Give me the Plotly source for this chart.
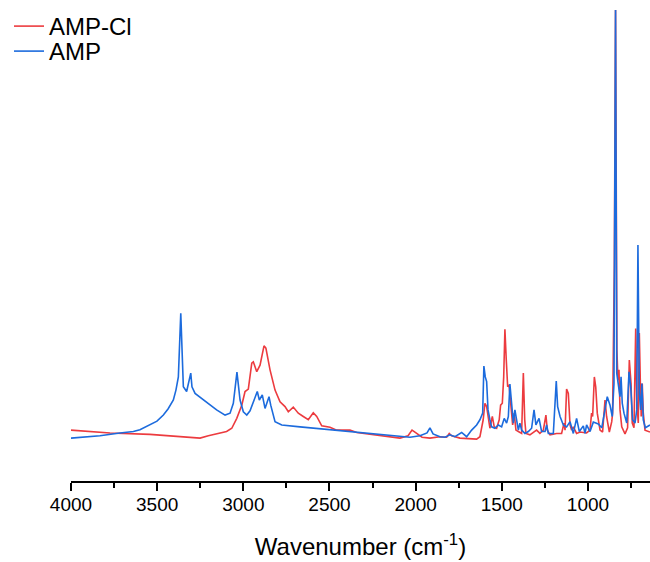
import plotly.graph_objects as go

# FTIR spectra (normalised absorbance, a.u.)
amp_cl_wn = [4000, 3774, 3542, 3251, 3203, 3155, 3097, 3067, 3038, 3009, 2990, 2971, 2951, 2942,
             2922, 2903, 2880, 2869, 2845, 2816, 2787, 2758, 2739, 2710, 2681, 2652, 2623, 2594,
             2574, 2545, 2497, 2458, 2381, 2342, 2265, 2091, 2044, 2021, 1998, 1963, 1917, 1859,
             1820, 1805, 1791, 1743, 1646, 1627, 1608, 1598, 1588, 1579, 1569, 1555, 1544, 1530,
             1515, 1507, 1497, 1489, 1482, 1474, 1466, 1458, 1453, 1443, 1437, 1428, 1418, 1404,
             1385, 1375, 1367, 1360, 1337, 1298, 1279, 1259, 1244, 1236, 1220, 1182, 1153, 1139,
             1133, 1124, 1114, 1104, 1095, 1085, 1066, 1046, 1008, 988, 979, 973, 963, 955, 946,
             930, 915, 901, 892, 876, 862, 857, 847, 840, 832, 826, 820, 814, 804, 785, 770, 760,
             750, 743, 733, 723, 717, 708, 702, 696, 691, 685, 679, 669, 640]
amp_cl_abs = [0.108, 0.102, 0.099, 0.091, 0.096, 0.100, 0.105, 0.112, 0.133, 0.161, 0.190, 0.195,
              0.250, 0.253, 0.232, 0.246, 0.287, 0.282, 0.236, 0.193, 0.168, 0.158, 0.147, 0.157,
              0.144, 0.137, 0.130, 0.145, 0.137, 0.117, 0.114, 0.108, 0.108, 0.103, 0.099, 0.091,
              0.096, 0.108, 0.102, 0.093, 0.091, 0.094, 0.093, 0.101, 0.096, 0.091, 0.089, 0.094,
              0.130, 0.165, 0.158, 0.137, 0.112, 0.137, 0.115, 0.112, 0.130, 0.161, 0.165, 0.221,
              0.322, 0.257, 0.200, 0.204, 0.179, 0.137, 0.119, 0.144, 0.108, 0.105, 0.101, 0.229,
              0.130, 0.101, 0.098, 0.108, 0.101, 0.108, 0.140, 0.108, 0.098, 0.101, 0.101, 0.123,
              0.108, 0.195, 0.186, 0.119, 0.108, 0.115, 0.101, 0.104, 0.102, 0.108, 0.144, 0.137,
              0.221, 0.200, 0.144, 0.108, 0.104, 0.172, 0.137, 0.104, 0.126, 0.144, 0.455, 1.000,
              0.278, 0.214, 0.236, 0.151, 0.115, 0.100, 0.113, 0.257, 0.207, 0.123, 0.113, 0.324,
              0.172, 0.123, 0.314, 0.207, 0.137, 0.207, 0.144, 0.108, 0.104]

amp_wn = [4000, 3832, 3716, 3638, 3600, 3542, 3501, 3464, 3437, 3406, 3391, 3377, 3363, 3348,
          3329, 3305, 3298, 3280,
          3232, 3155, 3106, 3077, 3058, 3037, 3019, 3000, 2980, 2961, 2919, 2907, 2890, 2874,
          2851, 2841, 2816, 2777, 2671, 2478, 2284, 2091, 2033, 1975, 1934, 1917, 1899, 1859,
          1830, 1801, 1772, 1733, 1704, 1675, 1646, 1627, 1611, 1604, 1596, 1588, 1580, 1569,
          1559, 1540, 1520, 1501, 1486, 1472, 1462, 1453, 1443, 1433, 1424, 1414, 1404, 1395,
          1385, 1366, 1346, 1327, 1313, 1302, 1284, 1269, 1249, 1240, 1230, 1201, 1192, 1184,
          1176, 1162, 1143, 1124, 1104, 1085, 1066, 1050, 1027, 1017, 1008, 988, 969, 940, 920,
          901, 888, 872, 859, 849, 840, 833, 824, 814, 808, 801, 791, 775, 762, 752, 741, 727,
          717, 710, 702, 694, 687, 679, 667, 640]
amp_abs = [0.091, 0.096, 0.102, 0.105, 0.109, 0.119, 0.127, 0.140, 0.153, 0.172, 0.193, 0.221,
           0.356, 0.200, 0.190, 0.229,
           0.200, 0.186, 0.172, 0.151, 0.140, 0.144, 0.165, 0.231, 0.172, 0.147, 0.140, 0.149,
           0.190, 0.172, 0.183, 0.154, 0.179, 0.161, 0.126, 0.119, 0.115, 0.108, 0.101, 0.094,
           0.093, 0.096, 0.102, 0.113, 0.100, 0.094, 0.093, 0.098, 0.094, 0.103, 0.094, 0.108,
           0.119, 0.130, 0.144, 0.244, 0.221, 0.211, 0.151, 0.130, 0.115, 0.112, 0.119, 0.115,
           0.133, 0.123, 0.137, 0.206, 0.165, 0.123, 0.151, 0.130, 0.108, 0.123, 0.108, 0.101,
           0.105, 0.112, 0.151, 0.119, 0.133, 0.105, 0.105, 0.119, 0.101, 0.101, 0.151, 0.212,
           0.158, 0.137, 0.119, 0.115, 0.126, 0.101, 0.133, 0.105, 0.117, 0.101, 0.119, 0.105,
           0.125, 0.121, 0.113, 0.151, 0.179, 0.161, 0.137, 0.207, 1.000, 0.229, 0.200, 0.179,
           0.221, 0.165, 0.144, 0.123, 0.232, 0.200, 0.130, 0.123, 0.151, 0.501, 0.186, 0.151,
           0.207, 0.130, 0.113, 0.119]

x_ticks = [4000, 3500, 3000, 2500, 2000, 1500, 1000]

RED = "#EC3B3F"
BLUE = "#1C6BDD"
FONT = "Liberation Sans, Arial, sans-serif"

fig = go.Figure()
fig.add_trace(go.Scatter(x=amp_cl_wn, y=amp_cl_abs, mode="lines", name="AMP-Cl",
                         line=dict(color=RED, width=1.6), legend="legend"))
fig.add_trace(go.Scatter(x=amp_wn, y=amp_abs, mode="lines", name="AMP",
                         line=dict(color=BLUE, width=1.6), legend="legend2"))

legend_style = dict(xref="container", yref="container", x=9 / 650,
                    xanchor="left", yanchor="top", font=dict(size=24, family=FONT),
                    bgcolor="rgba(0,0,0,0)", itemwidth=30)

fig.update_layout(
    width=650, height=562,
    margin=dict(l=71, r=0, t=0, b=81, autoexpand=False),
    paper_bgcolor="white", plot_bgcolor="white",
    font=dict(family=FONT, color="black"),
    showlegend=True,
    legend=dict(legend_style, y=1 - 4 / 562),
    legend2=dict(legend_style, y=1 - 29 / 562),
    xaxis=dict(range=[4000, 640], tickvals=x_ticks, ticktext=[str(v) for v in x_ticks],
               showline=True, linecolor="black", linewidth=1.5,
               ticks="outside", ticklen=8, tickwidth=1.5, tickcolor="black",
               minor=dict(dtick=250, ticks="outside", ticklen=5, tickwidth=1.5, tickcolor="black"),
               showgrid=False, zeroline=False,
               tickfont=dict(size=19, family=FONT), ticklabelstandoff=-3,
               title=dict(text="Wavenumber (cm<sup>-1</sup>)", font=dict(size=24, family=FONT),
                          standoff=25),
               automargin=True),
    yaxis=dict(range=[0, 1.0212], visible=False, showgrid=False, zeroline=False),
)

fig.write_html("out.html")
